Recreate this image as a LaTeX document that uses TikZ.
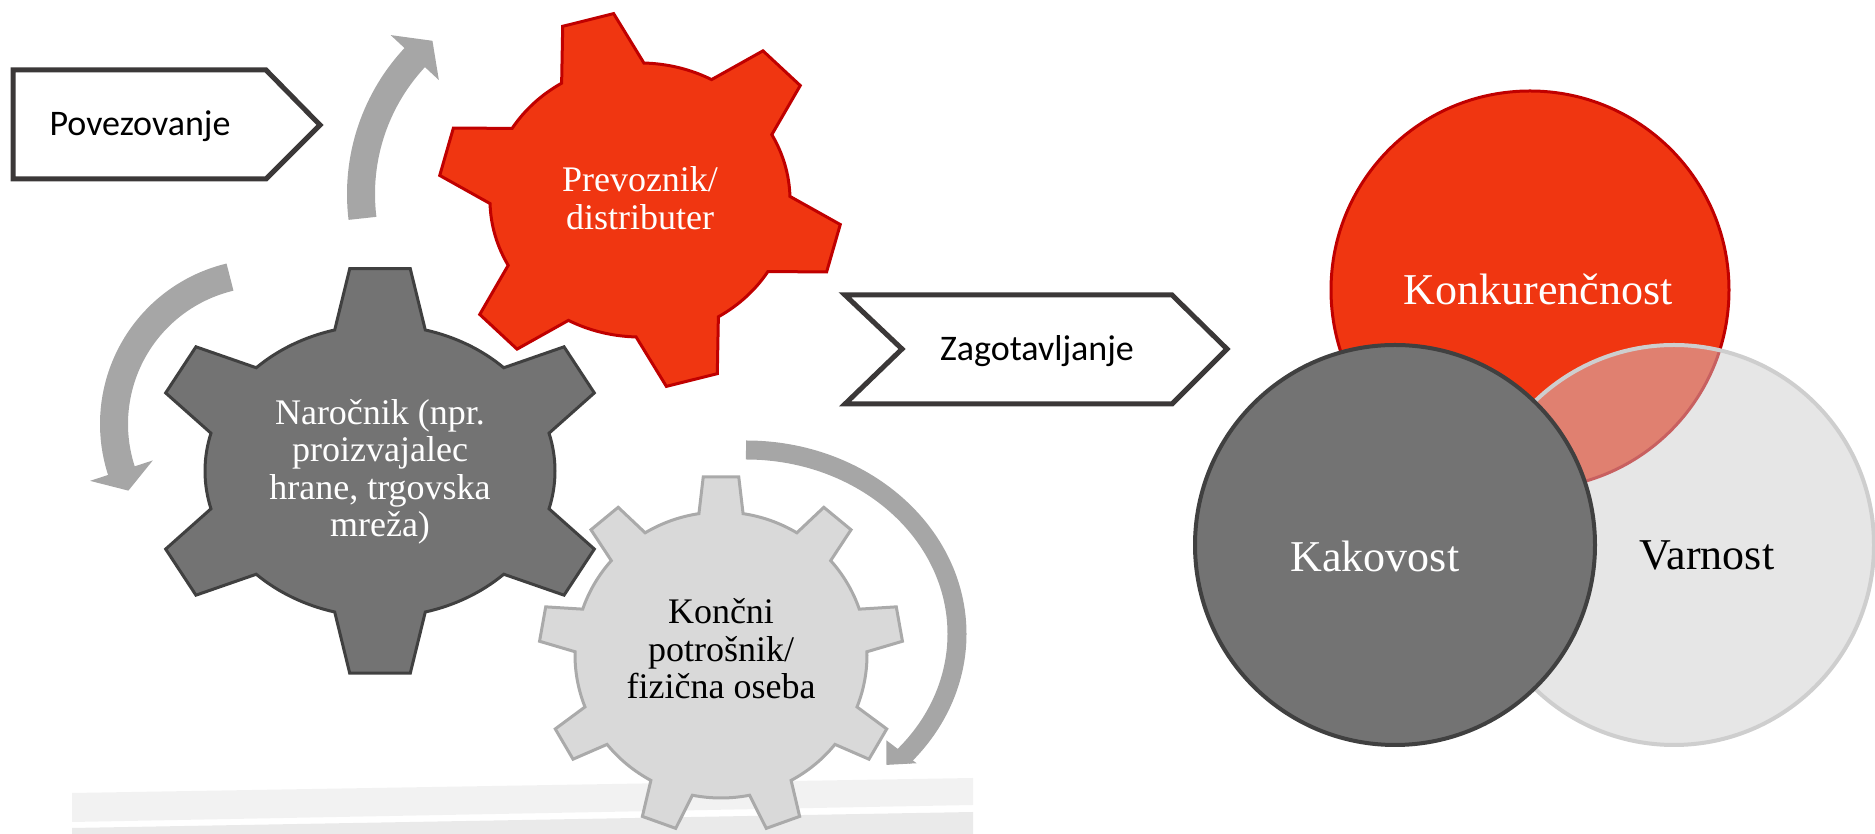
\documentclass[tikz,border=0pt]{standalone}
\usepackage{fontspec}
\setmainfont{Liberation Serif}
\newfontfamily\calibri{Carlito}
\definecolor{redfill}{RGB}{240,54,17}
\definecolor{redline}{RGB}{192,0,0}
\definecolor{darkfill}{RGB}{115,115,115}
\definecolor{darkline}{RGB}{64,64,64}
\definecolor{lightfill}{RGB}{217,217,217}
\definecolor{lightline}{RGB}{170,170,170}
\definecolor{arrowgray}{RGB}{166,166,166}
\definecolor{boxline}{RGB}{59,56,56}
\definecolor{circlight}{RGB}{230,230,230}
\definecolor{circlightline}{RGB}{206,206,206}
\definecolor{lensfill}{RGB}{224,128,112}
\definecolor{lensline}{RGB}{200,96,96}
\definecolor{stripeA}{RGB}{242,242,242}
\definecolor{stripeB}{RGB}{234,234,234}
% teeth, rotation, base half angle, tip half angle, body x/y radius, tip x/y radius
\newcommand{\gearpath}[8]{%
  ({#2-360/#1+#3}:#5 and #6)
  \foreach \k in {1,...,#1}{
    arc[start angle={#2+(\k-2)*360/#1+#3}, end angle={#2+(\k-1)*360/#1-#3}, x radius=#5, y radius=#6]
    -- ({#2+(\k-1)*360/#1-#4}:#7 and #8)
    -- ({#2+(\k-1)*360/#1+#4}:#7 and #8)
    -- ({#2+(\k-1)*360/#1+#3}:#5 and #6)
  } -- cycle}
\tikzset{
  gearred/.style={fill=redfill, draw=redline, line width=3pt},
  geardark/.style={fill=darkfill, draw=darkline, line width=3pt},
  gearlight/.style={fill=lightfill, draw=lightline, line width=3pt},
  boxarrow/.style={draw=boxline, line width=5pt, fill=white},
  gtext/.style={align=center, inner sep=0pt, font=\fontsize{36}{37.5}\selectfont},
  ctext/.style={inner sep=0pt, anchor=base, font=\fontsize{44}{50}\selectfont},
  btext/.style={inner sep=0pt, anchor=base, font=\calibri\fontsize{36}{40}\selectfont},
}
\begin{document}
\begin{tikzpicture}[x=1pt,y=1pt]
			\useasboundingbox (0,0) rectangle (1875,834);
			%podlaga
			\fill[stripeA] (72,41) -- (973,56) -- (973,29) -- (72,12) -- cycle;
			\fill[stripeB] (72,6) -- (973,22) -- (973,0) -- (72,0) -- cycle;
			%oznake
			\draw[boxarrow] (13,764) -- (266,764) -- (320,709) -- (266,655) -- (13,655) -- cycle;
			\node[btext] (povez) at (140,698) {Povezovanje};
			\draw[boxarrow] (845,539) -- (1172,539) -- (1227,485) -- (1172,430) -- (845,430) -- (902,485) -- cycle;
			\node[btext] (zagot) at (1037,473) {Zagotavljanje};
			%zobniki
			\coordinate (redc) at (640,634);
			\coordinate (darkc) at (380,363);
			\coordinate (lightc) at (721,179);
			\draw[gearred, shift={(redc)}] \gearpath{6}{105}{16.5}{7.5}{150}{137}{202}{188};
			\draw[geardark, shift={(darkc)}] \gearpath{6}{90}{15}{7.5}{175}{146}{232}{204};
			\draw[gearlight, shift={(lightc)}] \gearpath{9}{90}{8.7}{5.6}{146}{143}{182}{179};
			\node[gtext, text=white] (prevoznik) at (640,636) {Prevoznik/\\distributer};
			\node[gtext, text=white] (narocnik) at (380,362) {Naročnik (npr.\\proizvajalec\\hrane, trgovska\\mreža)};
			\node[gtext] (koncni) at (721,185) {Končni\\potrošnik/\\fizična oseba};
			%puscice
			\coordinate (arrA) at (561,640);
			\coordinate (arrB) at (265,410);
			\coordinate (arrC) at (746,200);
			\begin{scope}[shift={(arrA)}]
				\draw[arrowgray, line width=28pt] (187:200) arc[start angle=187, end angle=136, radius=200];
				\fill[arrowgray] (137:167) -- (137:233) -- (130:200) -- cycle;
			\end{scope}
			\begin{scope}[shift={(arrB)}]
				\draw[arrowgray, line width=28pt] (103.4:151) arc[start angle=103.4, end angle=199, radius=151];
				\fill[arrowgray] (198:118) -- (198:184) -- (206:152) -- cycle;
			\end{scope}
			\begin{scope}[shift={(arrC)}]
				\draw[arrowgray, line width=19pt] (90:211 and 184) arc[start angle=90, end angle=-42, x radius=211, y radius=184];
				\fill[arrowgray] (-41:186 and 162) -- (-41:226 and 197) -- (-47:206 and 179) -- cycle;
			\end{scope}
			%krogi
			\coordinate (konkc) at (1530,544);
			\coordinate (kakc) at (1395,289);
			\coordinate (varnc) at (1674,289);
			\draw[fill=redfill, draw=redline, line width=3pt] (konkc) circle[radius=199];
			\fill[circlight] (varnc) circle[radius=200];
			\begin{scope}
				\clip (varnc) circle[radius=200];
				\fill[lensfill] (konkc) circle[radius=199];
				\draw[lensline, line width=3pt] (konkc) circle[radius=199];
			\end{scope}
			\draw[circlightline, line width=4pt] (varnc) circle[radius=200];
			\draw[fill=darkfill, draw=darkline, line width=4pt] (kakc) circle[radius=200];
			\node[ctext, text=white] (konk) at (1538,529) {Konkurenčnost};
			\node[ctext, text=white] (kak) at (1375,262) {Kakovost};
			\node[ctext] (varn) at (1707,264) {Varnost};
		\end{tikzpicture}
\end{document}
